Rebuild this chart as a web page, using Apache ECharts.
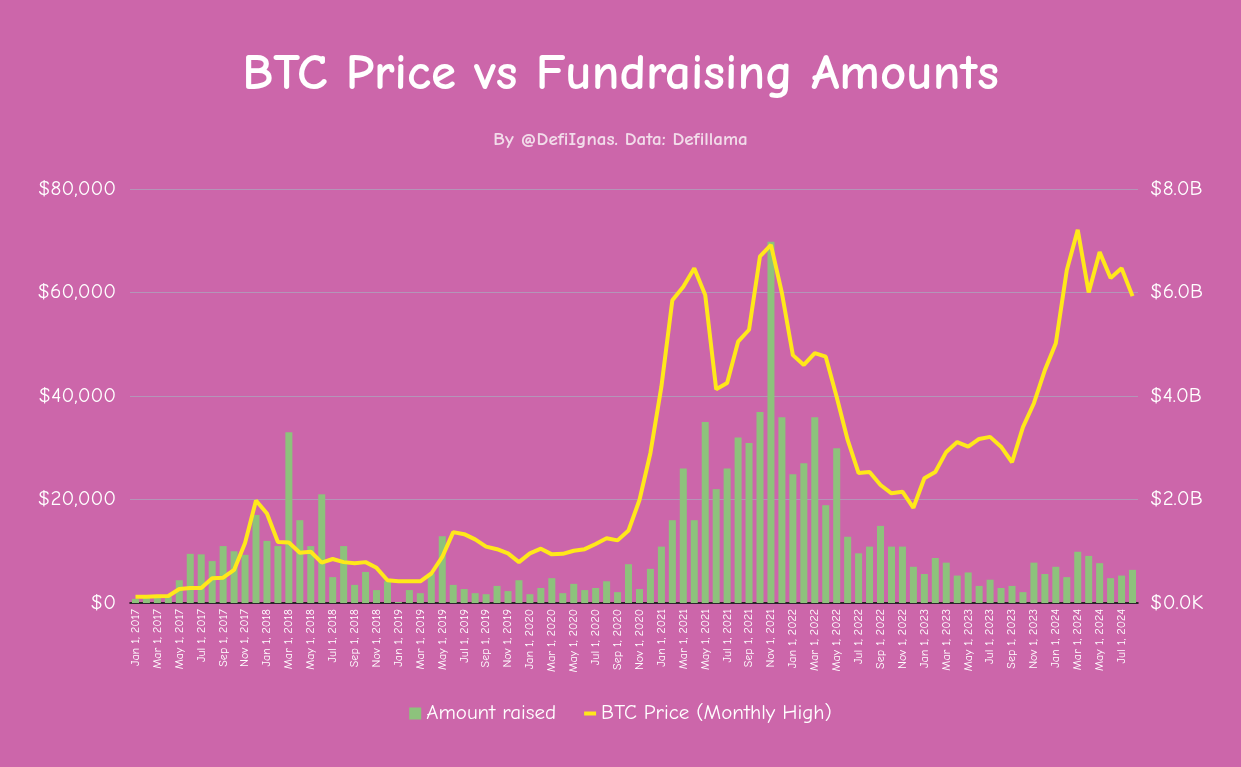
<!DOCTYPE html>
<html>
<head>
<meta charset="utf-8">
<script src="https://cdn.jsdelivr.net/npm/echarts@6/dist/echarts.min.js"></script>
<style>
html,body{margin:0;padding:0;background:#CC66AA;}
#chart{width:1241px;height:767px;}
</style>
</head>
<body>
<div id="chart"></div>
<script>
const months = ['Jan','Feb','Mar','Apr','May','Jun','Jul','Aug','Sep','Oct','Nov','Dec'];
const categories = [];
for (let y = 2017; y <= 2024; y++) {
  for (let m = 0; m < 12; m++) {
    if (y === 2024 && m > 7) break;
    categories.push(months[m] + ' 1, ' + y);
  }
}

// Amount raised, in billions USD (right axis)
const amountRaised = [
  0.08, 0.10, 0.10, 0.12, 0.44, 0.95, 0.94, 0.81, 1.10, 1.00, 0.93, 1.70,
  1.20, 1.10, 3.30, 1.60, 1.10, 2.10, 0.50, 1.10, 0.35, 0.60, 0.25, 0.42,
  0.02, 0.25, 0.19, 0.57, 1.29, 0.35, 0.27, 0.19, 0.17, 0.33, 0.23, 0.44,
  0.17, 0.29, 0.48, 0.19, 0.37, 0.25, 0.29, 0.42, 0.21, 0.75, 0.27, 0.66,
  1.09, 1.60, 2.60, 1.60, 3.50, 2.20, 2.60, 3.20, 3.09, 3.69, 6.98, 3.59,
  2.49, 2.70, 3.59, 1.89, 2.99, 1.28, 0.96, 1.09, 1.49, 1.09, 1.09, 0.70,
  0.56, 0.87, 0.78, 0.53, 0.59, 0.33, 0.45, 0.29, 0.33, 0.21, 0.78, 0.56,
  0.70, 0.50, 0.99, 0.91, 0.77, 0.48, 0.53, 0.64
];

// BTC monthly high, USD (left axis)
const btcHigh = [
  1200, 1210, 1290, 1350, 2700, 2900, 2900, 4800, 4900, 6400, 11600, 19800,
  17300, 11800, 11700, 9700, 9900, 7800, 8500, 7900, 7700, 7900, 6800, 4400,
  4200, 4200, 4200, 5700, 8900, 13700, 13300, 12300, 10900, 10400, 9600, 7900,
  9600, 10500, 9400, 9500, 10100, 10400, 11400, 12500, 12100, 14000, 19900, 29000,
  41800, 58500, 61100, 64700, 59500, 41300, 42500, 50500, 52800, 67000, 69200, 59900,
  47900, 46000, 48300, 47600, 39800, 31500, 25100, 25300, 22800, 21200, 21500, 18400,
  24100, 25300, 29200, 31100, 30200, 31700, 32100, 30200, 27200, 34000, 38600, 45000,
  50200, 64300, 72100, 60000, 67800, 62800, 64700, 59300
];

const leftTicks = [0, 20000, 40000, 60000, 80000];
const rightTicks = [0, 2, 4, 6, 8];

const FONT = "'Comic Sans MS', 'Comic Neue', 'Noto Sans', sans-serif";
const chart = echarts.init(document.getElementById('chart'));
chart.setOption({
  backgroundColor: '#CC66AA',
  textStyle: { fontFamily: FONT },
  title: [
    { text: 'BTC Price vs Fundraising Amounts', left: 'center', top: 44,
      textStyle: { color: '#ffffff', fontSize: 51, fontWeight: 600, fontFamily: FONT } },
    { text: 'By @DefiIgnas. Data: Defillama', left: 'center', top: 125,
      textStyle: { color: '#f2dcea', fontSize: 19, fontWeight: 600, fontFamily: FONT } }
  ],
  legend: {
    bottom: 38, left: 'center', itemGap: 28,
    textStyle: { color: '#ffffff', fontSize: 21, fontFamily: FONT },
    data: [
      { name: 'Amount raised', icon: 'rect' },
      { name: 'BTC Price (Monthly High)', icon: 'path://M0,0 L12,0 L12,4 L0,4 Z' }
    ],
    itemWidth: 12, itemHeight: 12
  },
  grid: { left: 130, right: 103, top: 189, bottom: 164, containLabel: false },
  xAxis: {
    type: 'category', data: categories, boundaryGap: true,
    axisLine: { lineStyle: { color: '#000000', width: 1.5 } },
    axisTick: { show: false },
    axisLabel: { interval: 1, rotate: 90, color: '#ffffff', fontSize: 12, margin: 6, fontFamily: FONT }
  },
  yAxis: [
    { type: 'value', min: 0, max: 80000, interval: 20000,
      axisLine: { show: false }, axisTick: { show: false },
      splitLine: { lineStyle: { color: 'rgba(170,170,190,0.7)', width: 1 } },
      axisLabel: { color: '#ffffff', fontSize: 21, margin: 14, fontFamily: FONT,
        formatter: v => '$' + v.toLocaleString('en-US') } },
    { type: 'value', min: 0, max: 8, interval: 2,
      axisLine: { show: false }, axisTick: { show: false }, splitLine: { show: false },
      axisLabel: { color: '#ffffff', fontSize: 21, margin: 12, fontFamily: FONT,
        formatter: v => v === 0 ? '$0.0K' : '$' + v.toFixed(1) + 'B' } }
  ],
  series: [
    { name: 'Amount raised', type: 'bar', yAxisIndex: 1, data: amountRaised,
      barCategoryGap: '36%', itemStyle: { color: '#8DC27C' } },
    { name: 'BTC Price (Monthly High)', type: 'line', yAxisIndex: 0, data: btcHigh,
      symbol: 'none', lineStyle: { color: '#FFE81A', width: 4 }, itemStyle: { color: '#FFE81A' } }
  ]
});
</script>
</body>
</html>
